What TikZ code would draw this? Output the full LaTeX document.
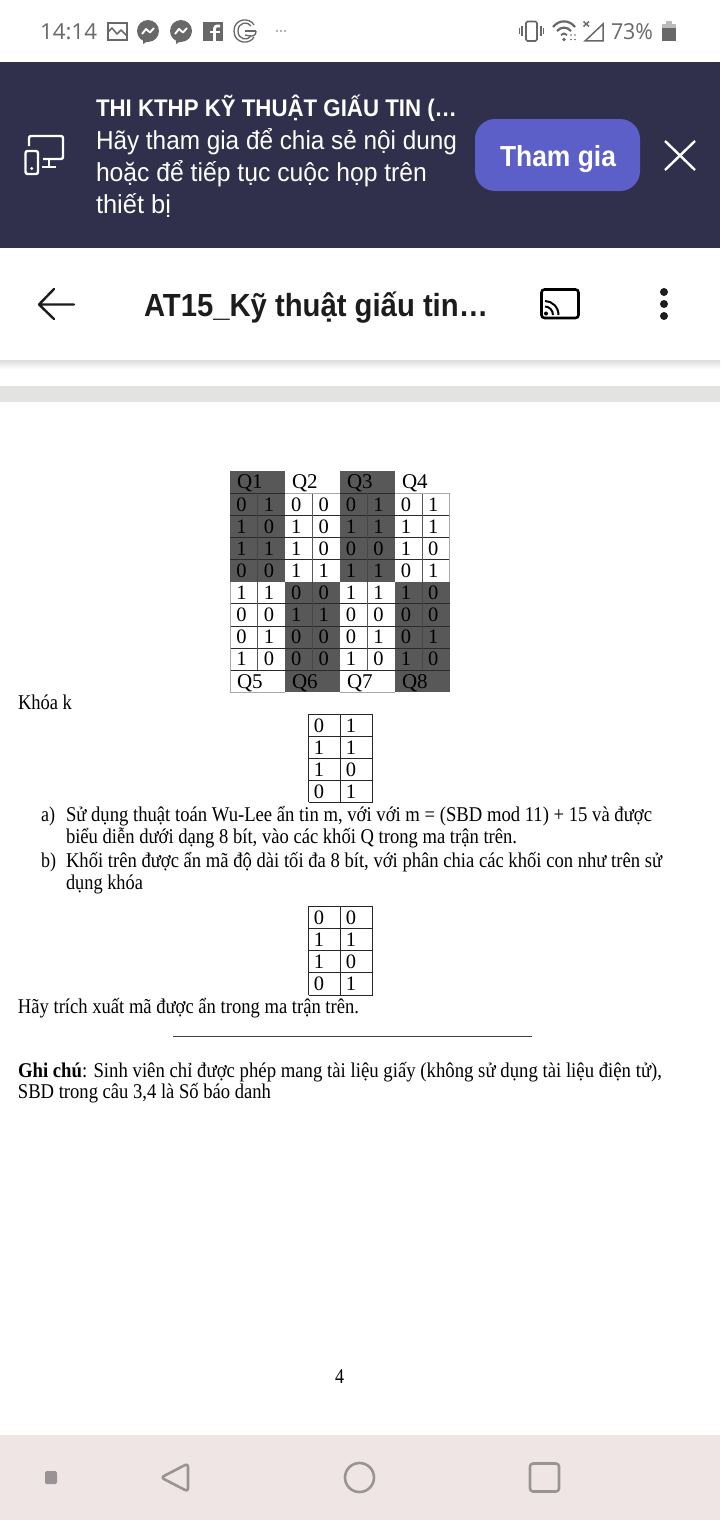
\documentclass[tikz,border=0pt]{standalone}
\usepackage{fontspec}
\usepackage{graphicx}
\setmainfont{Liberation Serif}
\newfontfamily\uifont{Liberation Sans}
\newfontfamily\statfont{Open Sans}
\newcommand{\fitw}[2]{\resizebox{#1pt}{\height}{#2}}
\newcommand{\pxsize}[1]{\fontsize{#1pt}{#1pt}\selectfont}
\definecolor{bannerc}{HTML}{30304D}
\definecolor{buttonc}{HTML}{5B5FC7}
\definecolor{statc}{HTML}{686868}
\definecolor{darkc}{HTML}{585858}
\definecolor{navbg}{HTML}{EFE5E5}
\definecolor{navc}{HTML}{9A9395}
\definecolor{bandc}{HTML}{E3E3E1}
\definecolor{titlec}{HTML}{1C1C1C}
\definecolor{gridc}{HTML}{2A2A2A}
\definecolor{edgec}{HTML}{A8A8A8}
\tikzset{
  txt/.style={anchor=base west,inner sep=0pt,outer sep=0pt},
  stat/.style={txt,text=statc,font=\statfont\pxsize{22}},
  ban/.style={txt,text=white,font=\uifont\pxsize{26}},
  doc/.style={txt,text=black,font=\pxsize{21}},
  bit/.style={anchor=base,inner sep=0pt,outer sep=0pt,text=black,font=\pxsize{20.5}},
  qlabel/.style={txt,text=black,font=\pxsize{21}},
  uiline/.style={draw=white,line width=2.4pt,line cap=round,line join=round},
  navline/.style={draw=navc,line width=2.6pt,line join=round},
  gridline/.style={draw=gridc,line width=0.9pt},
  keyline/.style={draw=black!85,line width=0.9pt},
  softv/.style={draw=black!65,line width=0.9pt},
  edgeline/.style={draw=edgec,line width=1pt},
}
\begin{document}
\begin{tikzpicture}[x=1pt,y=-1pt]
\useasboundingbox (0,0) rectangle (720,1520);
\fill[white] (0,0) rectangle (720,1520);

% status bar
\node[stat] (clock) at (40,40) {\fitw{57}{14:14}};
\draw[statc,line width=1.7pt] (108,23) rectangle (127,40);
\draw[statc,line width=1.5pt,line join=round] (108,32) -- (112,28) -- (117,34) -- (121,30) -- (127,36);
\foreach \cx in {148,181}{
  \fill[statc] (\cx,31) circle (11);
  \fill[statc] (\cx-5,38) -- (\cx-5,44) -- (\cx+2,40) -- cycle;
  \draw[white,line width=1.9pt,line join=round] (\cx-6,34) -- (\cx-2,29) -- (\cx+2,32.5) -- (\cx+6,28);
}
\fill[statc] (203,22) rectangle (223,41);
\draw[white,line width=2.8pt] (220,26) .. controls (215,25.5) and (214.5,27) .. (214.5,30) -- (214.5,41);
\draw[white,line width=2.4pt] (210,32) -- (220,32);
\draw[statc,line width=1.3pt] (254,37) .. controls (250,45) and (234,44) .. (234,31) .. controls (234,18) and (250,17) .. (254,25);
\draw[statc,line width=1.3pt] (251,36) .. controls (248,41) and (238,40) .. (238,31) .. controls (238,22) and (248,21) .. (251,26);
\draw[statc,line width=1.3pt] (256,31) -- (245,31);
\draw[statc,line width=1.3pt] (256,31) .. controls (256,38) and (250,36) .. (245,35);
\foreach \cx in {277,281,285}{\fill[statc] (\cx,31) circle (0.9);}
% right status icons
\draw[statc,line width=1.7pt,rounded corners=1.5pt] (526,21.5) rectangle (537,41);
\draw[statc,line width=1.6pt] (522,26) -- (522,36) (541,26) -- (541,36);
\draw[statc,line width=1.4pt] (519.5,28.5) -- (519.5,34) (543.5,28.5) -- (543.5,34);
\draw[statc,line width=2.2pt] (553,27) .. controls (559,19.5) and (569,19.5) .. (575,27);
\draw[statc,line width=2.2pt] (557,31) .. controls (561,26.5) and (567,26.5) .. (571,31);
\draw[statc,line width=2pt] (561,35) .. controls (563,33) and (565,33) .. (567,35);
\fill[statc] (564,39.5) circle (1.8);
\fill[statc] (571,35) circle (0.9) (575,35) circle (0.9) (571,39.5) circle (0.9) (575,39.5) circle (0.9);
\draw[statc,line width=1.5pt] (583.5,21.5) -- (589,26.5) (589,21.5) -- (583.5,26.5);
\draw[statc,line width=1.5pt,line join=miter] (603,24) -- (603,41) -- (585,41) -- cycle;
\node[stat] (batt) at (611,40) {\fitw{42}{73\%}};
\fill[statc] (662,24) rectangle (676,41);
\fill[statc!45!white] (662,24) rectangle (676,28);
\fill[statc!45!white] (666,21) rectangle (672,24);

% banner
\fill[bannerc] (0,62) rectangle (720,248);
\node[txt,text=white,font=\uifont\bfseries\pxsize{24}] (bt) at (96,116) {\fitw{361}{THI KTHP KỸ THUẬT GIẤU TIN (…}};
\node[ban] (b1) at (96,149) {\fitw{361}{Hãy tham gia để chia sẻ nội dung}};
\node[ban] (b2) at (96,181) {\fitw{331}{hoặc để tiếp tục cuộc họp trên}};
\node[ban] (b3) at (96,213) {\fitw{75}{thiết bị}};
\fill[buttonc,rounded corners=20pt] (475,119) rectangle (640,191);
\node[txt,text=white,font=\uifont\bfseries\pxsize{29}] (join) at (500,166) {\fitw{116}{Tham gia}};
\draw[uiline,line cap=butt] (665,141) -- (695,170) (695,141) -- (665,170);
% device icon
\draw[uiline,line cap=butt,rounded corners=2pt] (29,146) -- (29,136) -- (63,136) -- (63,159) -- (43,159);
\draw[uiline,line cap=butt] (49,159) -- (49,167) (42,167) -- (56,167);
\draw[uiline,rounded corners=2pt] (25.5,151) rectangle (38,174);
\fill[white] (31.8,168.5) circle (1.6);

% toolbar
\draw[titlec,line width=2.4pt,line cap=round,line join=round] (74,304.5) -- (39,304.5) (54,289) -- (39,304.5) -- (54,319);
\node[txt,text=titlec,font=\uifont\bfseries\pxsize{32}] (doct) at (144,316) {\fitw{344}{AT15\_Kỹ thuật giấu tin…}};
\draw[black,line width=2.6pt,rounded corners=3pt] (541.5,289.5) rectangle (578.5,318);
\fill[black] (546,313.5) circle (2);
\draw[black,line width=2pt] (545,306.5) .. controls (549,306.5) and (553,310) .. (553,315);
\draw[black,line width=2pt] (545,301) .. controls (552,301) and (558.5,307) .. (558.5,315);
\foreach \cy in {292,304,316}{\fill[titlec] (664,\cy) circle (4);}
% shadow and band
\shade[top color=black!13,bottom color=white] (0,360) rectangle (720,369);
\fill[bandc] (0,386) rectangle (720,402);

% matrix
\fill[darkc] (230,471) rectangle (285,581.5);
\fill[darkc] (339.5,471) rectangle (394.5,581.5);
\fill[darkc] (285,581.5) rectangle (339.5,692);
\fill[darkc] (394.5,581.5) rectangle (449.5,692);
\foreach \yy in {493,515,537,559,603.5,626,648,670}{\draw[gridline] (230,\yy) -- (449.5,\yy);}
\draw[softv] (312,493) -- (312,581.5) (422,493) -- (422,581.5) (257.5,581.5) -- (257.5,670) (367,581.5) -- (367,670);
\draw[draw=black!72,line width=0.8pt] (257.5,493) -- (257.5,581.5) (367,493) -- (367,581.5) (312,581.5) -- (312,670) (422,581.5) -- (422,670);
\draw[edgeline] (230,581.5) -- (230,692) -- (285,692);
\draw[edgeline] (339.5,692) -- (394.5,692);
\draw[edgeline] (449.5,493) -- (449.5,581.5);
\draw[edgeline] (285,493) -- (339.5,493) (394.5,493) -- (449.5,493);
\foreach \lab/\lx/\ly in {Q1/237/488,Q2/292/488,Q3/347/488,Q4/402/488,Q5/237/688,Q6/292/688,Q7/347/688,Q8/402/688}{
  \node[qlabel] (\lab) at (\lx,\ly) {\lab};
}
\foreach \bits [count=\r] in {{0,1,0,0,0,1,0,1},{1,0,1,0,1,1,1,1},{1,1,1,0,0,0,1,0},{0,0,1,1,1,1,0,1},{1,1,0,0,1,1,1,0},{0,0,1,1,0,0,0,0},{0,1,0,0,0,1,0,1},{1,0,0,0,1,0,1,0}}{
  \foreach \b [count=\c] in \bits {
    \pgfmathsetmacro{\bx}{241.5+(\c-1)*27.4}
    \pgfmathsetmacro{\by}{511.5+(\r-1)*22.05}
    \node[bit] (m-\r-\c) at (\bx,\by) {\b};
  }
}
\node[doc] (khoa) at (18,709) {\fitw{54}{Khóa k}};

% key table 1
\foreach \yy in {714,736,758,780,802}{\draw[keyline] (308.5,\yy) -- (372.5,\yy);}
\foreach \xx in {308.5,340.5,372.5}{\draw[keyline] (\xx,714) -- (\xx,802);}
\foreach \ba/\bb [count=\r] in {0/1,1/1,1/0,0/1}{
  \pgfmathsetmacro{\by}{732.5+(\r-1)*22}
  \node[bit] (ka-\r) at (319,\by) {\ba};
  \node[bit] (kb-\r) at (351,\by) {\bb};
}

\node[doc] (la) at (41,821) {\fitw{14}{a)}};
\node[doc] (a1) at (66,821) {\fitw{586}{Sử dụng thuật toán Wu-Lee ẩn tin m, với với m = (SBD mod 11) + 15 và được}};
\node[doc] (a2) at (66,843) {\fitw{451}{biểu diễn dưới dạng 8 bít, vào các khối Q trong ma trận trên.}};
\node[doc] (lb) at (41,867) {\fitw{15}{b)}};
\node[doc] (b1t) at (66,867) {\fitw{596}{Khối trên được ẩn mã độ dài tối đa 8 bít, với phân chia các khối con như trên sử}};
\node[doc] (b2t) at (66,889) {\fitw{77}{dụng khóa}};

% key table 2
\foreach \yy in {906,928,950,972,995}{\draw[keyline] (308.5,\yy) -- (372.5,\yy);}
\foreach \xx in {308.5,340.5,372.5}{\draw[keyline] (\xx,906) -- (\xx,995);}
\foreach \ba/\bb [count=\r] in {0/0,1/1,1/0,0/1}{
  \pgfmathsetmacro{\by}{924.5+(\r-1)*22.1}
  \node[bit] (kc-\r) at (319,\by) {\ba};
  \node[bit] (kd-\r) at (351,\by) {\bb};
}

\node[doc] (ext) at (18,1013) {\fitw{341}{Hãy trích xuất mã được ẩn trong ma trận trên.}};
\draw[black!75,line width=1pt] (173,1036) -- (532,1036);
\node[doc] (note1) at (18,1077) {\fitw{644}{\textbf{Ghi chú}: Sinh viên chỉ được phép mang tài liệu giấy (không sử dụng tài liệu điện tử),}};
\node[doc] (note2) at (18,1098) {\fitw{253}{SBD trong câu 3,4 là Số báo danh}};
\node[doc] (pageno) at (335,1383) {\fitw{9}{4}};

% navigation bar
\fill[navbg] (0,1435) rectangle (720,1520);
\fill[navc,rounded corners=1.5pt] (45,1471) rectangle (57,1484);
\draw[navline,rounded corners=3pt] (188,1463.5) -- (188,1491.5) -- (161,1477.5) -- cycle;
\draw[navline] (359.5,1477.5) circle (14.5);
\draw[navline,rounded corners=3pt] (530,1463.5) rectangle (559,1491.5);
\end{tikzpicture}
\end{document}
